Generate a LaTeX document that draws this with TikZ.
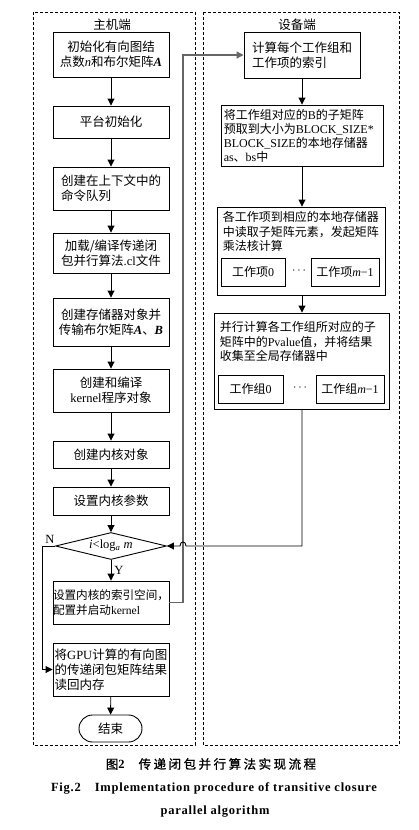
\documentclass[tikz,border=0pt]{standalone}
\usepackage{fontspec}
\setmainfont{Liberation Serif}
\newfontfamily\cj{Noto Sans CJK SC}
\newfontfamily\capcj[LetterSpace=20,FakeBold=1]{Noto Sans CJK SC}
\newfontfamily\caplat[LetterSpace=6]{Liberation Serif}
\usetikzlibrary{arrows.meta,shapes.geometric,calc}
\newcommand\lat[1]{{\rmfamily #1}}
\begin{document}
\begin{tikzpicture}[x=1pt,y=-1pt,
  lbox/.style={draw, line width=0.9pt, minimum width=116pt, inner sep=1pt, font=\cj\fontsize{12.5}{15}\selectfont},
  rtxt/.style={inner sep=0pt, anchor=north west, align=left, font=\cj\fontsize{12}{14.5}\selectfont},
  rbox/.style={draw, line width=0.9pt},
  sbox/.style={draw, line width=0.9pt, minimum height=28pt, inner sep=1pt, font=\cj\fontsize{12}{14}\selectfont},
  panel/.style={draw, line width=0.7pt, dash pattern=on 3pt off 2pt},
  arr/.style={line width=0.9pt, -{Triangle[length=7pt,width=7pt]}},
  loopline/.style={line width=1.2pt, draw=black!60},
  ttl/.style={font=\cj\fontsize{12.5}{15}\selectfont, inner sep=0pt},
  lbl/.style={font=\fontsize{12.5}{15}\selectfont, inner sep=0pt},
  ]
\useasboundingbox (0,0) rectangle (418,830);
\fill[white] (0,0) rectangle (418,830);
% panels
\draw[panel] (33,12) rectangle (195,745);
\draw[panel] (203,12) rectangle (399,745);
\node[ttl] (th) at (112,25) {主机端};
\node[ttl] (td) at (297,25) {设备端};
% host side
\node[lbox, minimum height=45pt, align=center] (L1) at (111,54.5) {初始化有向图结\\点数\lat{\textit{n}}和布尔矩阵\lat{\textbf{\textit{A}}}};
\node[lbox, minimum height=32pt] (L2) at (111,122) {平台初始化};
\node[lbox, minimum height=43pt, align=left] (L3) at (111,188.5) {创建在上下文中的\\命令队列};
\node[lbox, minimum height=40pt, align=center] (L4) at (111,253) {加载/编译传递闭\\包并行算法\lat{.cl}文件};
\node[lbox, minimum height=48pt, align=center] (L5) at (111,322) {创建存储器对象并\\传输布尔矩阵\lat{\textbf{\textit{A}}}、\lat{\textbf{\textit{B}}}};
\node[lbox, minimum height=43pt, align=center] (L6) at (111,390.5) {创建和编译\\\lat{kernel}程序对象};
\node[lbox, minimum height=27pt] (L7) at (111,454.5) {创建内核对象};
\node[lbox, minimum height=28pt] (L8) at (111,501) {设置内核参数};
\node[draw, diamond, line width=0.9pt, minimum width=111pt, minimum height=27pt, inner sep=0pt, aspect=4, font=\fontsize{12.5}{15}\selectfont] (D) at (111,546) {\textit{i}<log\textsubscript{\textit{a}} \textit{m}};
\node[lbox, minimum height=43pt, align=left, inner sep=0pt, font=\cj\fontsize{11.6}{15}\selectfont] (L9) at (111,602.5) {设置内核的索引空间，\\配置并启动\lat{kernel}};
\node[lbox, minimum height=53pt, align=left] (L10) at (111,669.5) {将\lat{GPU}计算的有向图\\的传递闭包矩阵结果\\读回内存};
\node[draw, line width=0.9pt, rounded corners=13.5pt, minimum width=63pt, minimum height=27pt, font=\cj\fontsize{12.5}{15}\selectfont] (E) at (110.5,728.5) {结束};
% device side
\node[lbox, minimum height=46pt, align=left] (R1) at (302,55) {计算每个工作组和\\工作项的索引};
\node[rbox, minimum width=162pt, minimum height=61pt] (R2) at (302,135.5) {};
\node[rtxt, font=\cj\fontsize{12}{14}\selectfont] (R2t) at ($(R2.north west)+(3,5)$) {将工作组对应的\lat{B}的子矩阵\\预取到大小为\lat{BLOCK\_SIZE*}\\\lat{BLOCK\_SIZE}的本地存储器\\\lat{as}、\lat{bs}中};
\node[rbox, minimum width=168pt, minimum height=88pt] (R3) at (301,251) {};
\node[rtxt] (R3t) at ($(R3.north west)+(6,5)$) {各工作项到相应的本地存储器\\中读取子矩阵元素，发起矩阵\\乘法核计算};
\node[sbox, minimum width=64pt] (R3a) at (253,272) {工作项\lat{0}};
\node[sbox, minimum width=68pt] (R3b) at (345,272) {工作项\lat{\textit{m}−1}};
\node[lbl] (R3d) at (299,271) {$\cdots$};
\node[rbox, minimum width=175pt, minimum height=96pt] (R4) at (301.5,361) {};
\node[rtxt] (R4t) at ($(R4.north west)+(6,9)$) {并行计算各工作组所对应的子\\矩阵中的\lat{Pvalue}值，并将结果\\收集至全局存储器中};
\node[sbox, minimum width=65pt] (R4a) at (250.5,389) {工作组\lat{0}};
\node[sbox, minimum width=68pt] (R4b) at (350,389) {工作组\lat{\textit{m}−1}};
\node[lbl] (R4d) at (300,388) {$\cdots$};
% helper coordinates
\coordinate (cx) at (183,0);
\coordinate (nx) at (42,0);
\coordinate (ax) at (302,0);
\coordinate (ret) at (302,546);
% host arrows
\draw[arr] (L1) -- (L2);
\draw[arr] (L2) -- (L3);
\draw[arr] (L3) -- (L4);
\draw[arr] (L4) -- (L5);
\draw[arr] (L5) -- (L6);
\draw[arr] (L6) -- (L7);
\draw[arr] (L7) -- (L8);
\draw[arr] (L8) -- (D);
\draw[arr] (D) -- (L9) node[lbl, pos=0.5, right=3pt] (Y) {Y};
\draw[arr] (L10) -- (E);
\draw[arr] (D.west) -- (D.west -| nx) |- (L10.west);
\node[lbl] (N) at (50,539) {N};
% device arrows
\draw[arr] (R1.south -| ax) -- (R2.north -| ax);
\draw[arr] (R2.south -| ax) -- (R3.north -| ax);
\draw[arr] (R3.south -| ax) -- (R4.north -| ax);
% loop to device
\draw[loopline, -{Triangle[length=7pt,width=7pt]}] (L9.east) -- (L9.east -| cx) -- (R1.west -| cx) -- (R1.west);
% return from device with jump
\draw[arr] (R4.south -| ax) -- (ret) -- (186,546) .. controls (186,540.5) and (180,540.5) .. (180,546) -- (D.east);
% caption
\node[inner sep=0pt, font=\fontsize{12.5}{15}\selectfont] (cap1) at (211,764) {{\capcj 图}{\caplat\bfseries 2}\hspace{14pt}{\capcj 传递闭包并行算法实现流程}};
\node[inner sep=0pt, font=\fontsize{12.5}{15}\selectfont] (cap2) at (214,788) {{\caplat\bfseries Fig.2\hspace{14pt}Implementation procedure of transitive closure}};
\node[inner sep=0pt, font=\fontsize{12.5}{15}\selectfont] (cap3) at (215,812) {{\caplat\bfseries parallel algorithm}};
\end{tikzpicture}
\end{document}
